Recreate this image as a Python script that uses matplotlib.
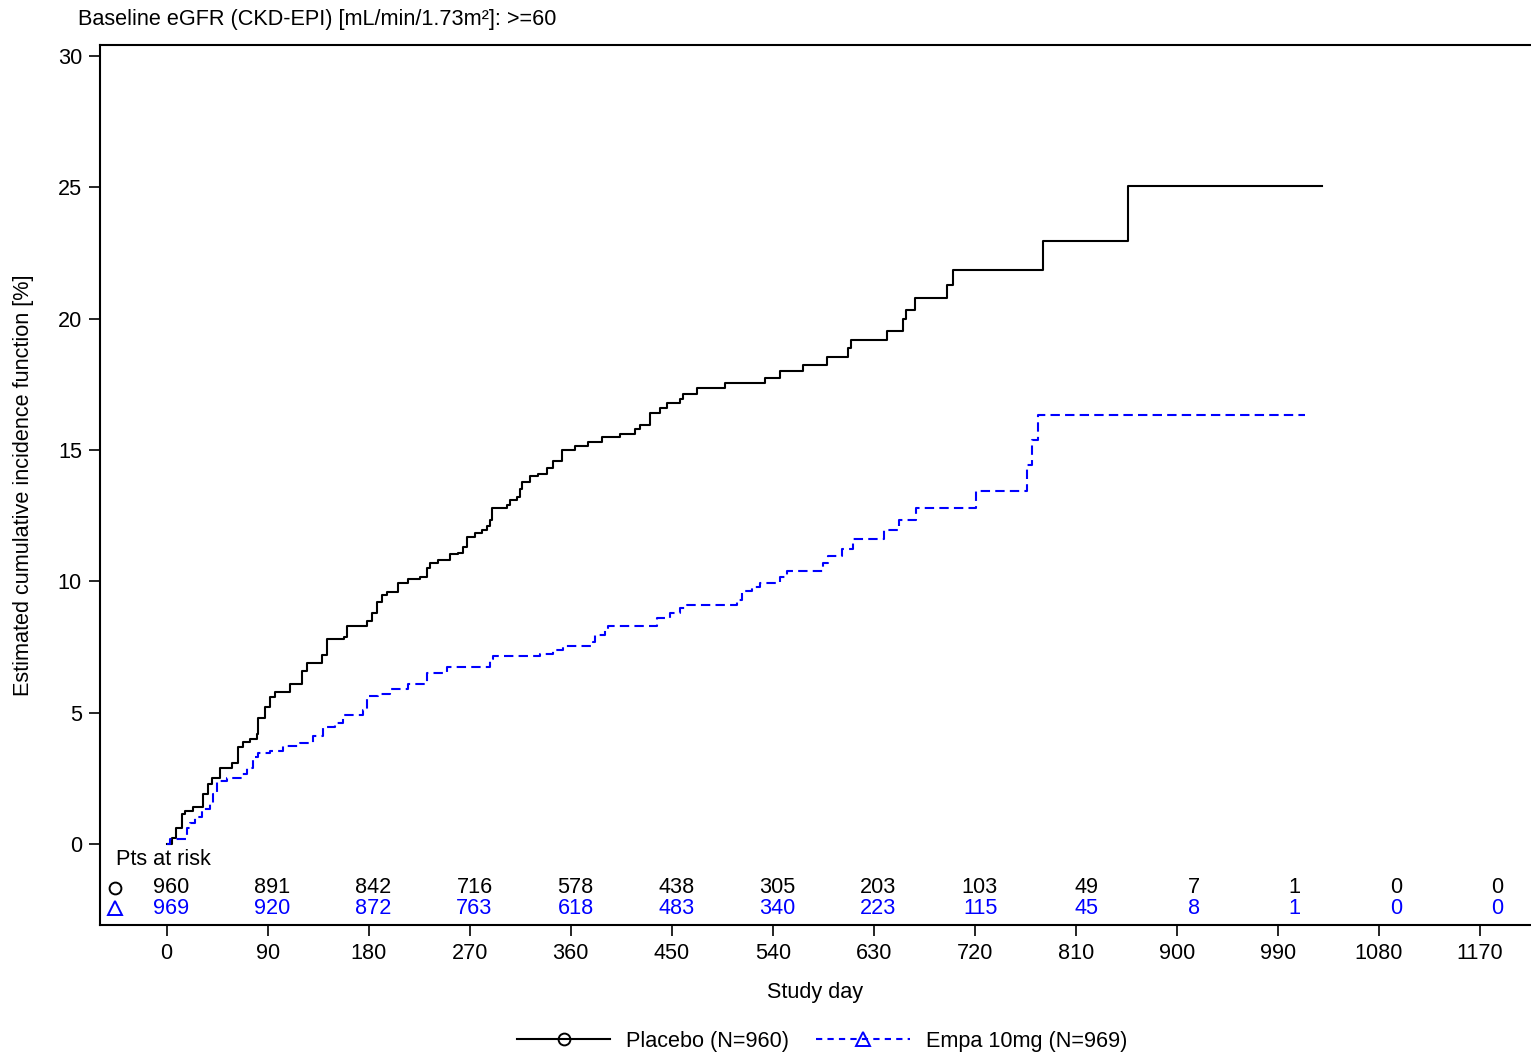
import matplotlib
matplotlib.use("Agg")
import matplotlib.pyplot as plt
from matplotlib.lines import Line2D

plt.rcParams["font.family"] = ["Liberation Sans", "DejaVu Sans"]
plt.rcParams["font.size"] = 15.6

# Cumulative incidence step curves (study day of each step, % after the step)
placebo_day = [0, 4.7, 8.3, 13.6, 16.3, 23.4, 32.3, 36.8, 40.4, 47.5, 58.2, 63.6,
               68.0, 74.2, 80.5, 81.4, 87.6, 92.1, 96.5, 109.9, 120.6, 125.0, 138.4,
               142.8, 157.9, 160.6, 178.5, 182.9, 187.4, 191.8, 196.3, 206.1, 215.0,
               225.7, 232.0, 234.7, 241.8, 252.4, 259.5, 264.0, 267.6, 274.7, 281.0,
               285.4, 288.1, 289.9, 303.3, 305.9, 312.2, 314.9, 316.6, 323.8, 330.9,
               338.9, 344.3, 352.3, 363.9, 375.5, 388.0, 404.0, 417.4, 421.8, 430.7,
               439.6, 445.9, 457.5, 460.2, 472.7, 497.6, 533.3, 546.6, 567.1, 588.5,
               607.3, 609.9, 642.0, 656.2, 658.9, 667.0, 695.5, 700.8, 780.9, 856.7,
               1029.5]
placebo_cif = [0, 0.25, 0.6, 1.15, 1.25, 1.4, 1.9, 2.3, 2.5, 2.9, 3.1, 3.7,
               3.9, 4.0, 4.2, 4.8, 5.2, 5.6, 5.8, 6.1, 6.6, 6.9, 7.2,
               7.8, 7.9, 8.3, 8.5, 8.8, 9.2, 9.5, 9.6, 9.95, 10.1,
               10.15, 10.5, 10.7, 10.8, 11.05, 11.1, 11.3, 11.7, 11.85, 11.95,
               12.1, 12.35, 12.8, 12.9, 13.1, 13.2, 13.5, 13.8, 14.0, 14.1,
               14.3, 14.6, 15.0, 15.15, 15.3, 15.5, 15.6, 15.8, 15.95, 16.4,
               16.6, 16.8, 16.95, 17.15, 17.35, 17.55, 17.75, 18.0, 18.25, 18.55,
               18.9, 19.2, 19.55, 20.0, 20.35, 20.8, 21.3, 21.85, 22.95, 25.05,
               25.05]

empa_day = [0, 3.0, 18.1, 20.8, 25.2, 31.5, 38.6, 41.3, 44.8, 53.7, 67.1, 71.6,
            76.9, 81.4, 92.1, 103.6, 118.8, 130.4, 139.3, 150.0, 157.1, 174.9,
            178.5, 188.3, 199.0, 215.0, 232.0, 249.8, 288.1, 290.8, 332.6, 344.3,
            353.2, 379.9, 381.7, 390.6, 393.3, 437.0, 448.5, 457.5, 463.7, 508.3,
            512.7, 521.6, 528.8, 546.6, 552.8, 584.9, 589.4, 601.8, 611.6, 639.2,
            652.6, 667.7, 721.2, 766.7, 771.1, 776.5, 1014.3]
empa_cif = [0, 0.2, 0.6, 0.8, 1.05, 1.35, 1.55, 1.9, 2.4, 2.5, 2.65, 2.9,
            3.3, 3.45, 3.55, 3.75, 3.85, 4.1, 4.45, 4.6, 4.9, 5.1,
            5.65, 5.7, 5.9, 6.1, 6.5, 6.75, 7.05, 7.15, 7.25, 7.4,
            7.55, 7.7, 7.95, 8.15, 8.3, 8.6, 8.8, 9.0, 9.1, 9.3,
            9.65, 9.8, 9.95, 10.15, 10.4, 10.7, 10.95, 11.25, 11.6, 11.95,
            12.35, 12.8, 13.45, 14.45, 15.4, 16.35, 16.35]

# Patients at risk table
risk_days = [0, 90, 180, 270, 360, 450, 540, 630, 720, 810, 900, 990, 1080, 1170]
placebo_risk = [960, 891, 842, 716, 578, 438, 305, 203, 103, 49, 7, 1, 0, 0]
empa_risk = [969, 920, 872, 763, 618, 483, 340, 223, 115, 45, 8, 1, 0, 0]

placebo_label = "Placebo (N=960)"
empa_label = "Empa 10mg (N=969)"
blue = "#0000FF"

fig = plt.figure(figsize=(15.31, 10.56), dpi=100)
ax = fig.add_axes([100 / 1531, 1 - 925 / 1056, 1431 / 1531, 880 / 1056])

ax.step(placebo_day, placebo_cif, where="post", color="black", lw=1.5)
ax.step(empa_day, empa_cif, where="post", color=blue, lw=1.5,
        linestyle=(0, (4.5, 2.5)))

ax.set_xlim(-59.4, 1215.5)
ax.set_ylim(-3.08, 30.42)
ax.set_xticks(risk_days)
ax.set_yticks([0, 5, 10, 15, 20, 25, 30])
ax.tick_params(length=8, width=1.2, pad=5, labelsize=15.6)
for side in ["left", "bottom", "top"]:
    ax.spines[side].set_linewidth(1.5)
ax.spines["right"].set_visible(False)

ax.set_xlabel("Study day", labelpad=13)
ax.set_ylabel("Estimated cumulative incidence function [%]", labelpad=17)

# at-risk counts drawn inside the plot area
ax.text(-45, -0.57, "Pts at risk", va="center", ha="left")
ax.plot([-46], [-1.67], marker="o", ms=8.5, mfc="none", mec="black", mew=1.4,
        clip_on=False)
ax.plot([-46], [-2.44], marker="^", ms=9.5, mfc="none", mec=blue, mew=1.4,
        clip_on=False)
for d, p, e in zip(risk_days, placebo_risk, empa_risk):
    ax.annotate(str(p), (d, -1.67), xytext=(16.5, 0), textcoords="offset points",
                ha="right", va="center", color="black")
    ax.annotate(str(e), (d, -2.44), xytext=(16.5, 0), textcoords="offset points",
                ha="right", va="center", color=blue)

fig.text(78 / 1531, 1 - 20 / 1056, "Baseline eGFR (CKD-EPI) [mL/min/1.73m²]: >=60",
         ha="left", va="center")

handles = [
    Line2D([], [], color="black", lw=1.5, marker="o", ms=8.5, mfc="none",
           mec="black", mew=1.4),
    Line2D([], [], color=blue, lw=1.5, linestyle=(0, (3, 2.5)), marker="^",
           ms=9.5, mfc="none", mec=blue, mew=1.4),
]
fig.legend(handles, [placebo_label, empa_label], loc="center",
           bbox_to_anchor=(822 / 1531, 1 - 1041 / 1056), ncol=2, frameon=False,
           handlelength=4.3, handletextpad=0.74, columnspacing=1.25, numpoints=1)

fig.savefig("out.png", dpi=100)
